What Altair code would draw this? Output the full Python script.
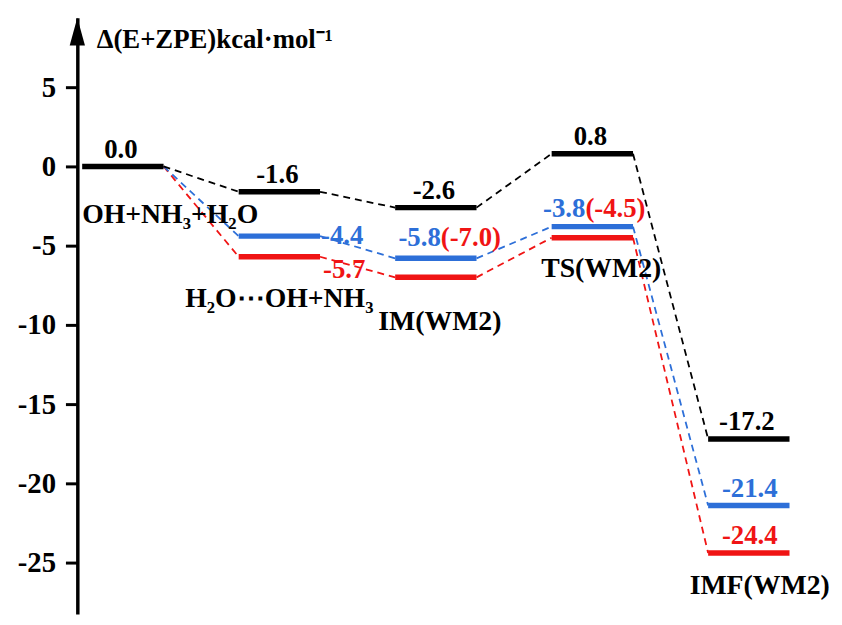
import altair as alt
import pandas as pd

# ---- data ----
stages = [0, 1, 2, 3, 4]
stage_names = ["OH+NH₃+H₂O", "H₂O⋯OH+NH₃", "IM(WM2)", "TS(WM2)", "IMF(WM2)"]
e_black = [0.0, -1.6, -2.6, 0.8, -17.2]
e_blue = [0.0, -4.4, -5.8, -3.8, -21.4]
e_red = [0.0, -5.7, -7.0, -4.5, -24.4]
name_y = [-3.55, -8.85, -10.3, -7.0, -27.0]
y_ticks = [-25, -20, -15, -10, -5, 0, 5]
y_title = "Δ(E+ZPE)kcal·mol⁻¹"

# ---- styling ----
FONT = "Liberation Serif"
BLACK, BLUE, RED = "#000000", "#2d6fd8", "#f01414"
HW = 0.26            # half width of an energy level, in stage units
W, H = 760, 602
X_DOM = [-0.291, 4.519]
Y_DOM = [-28.25, 9.375]
PX_X = (X_DOM[1] - X_DOM[0]) / W
PX_Y = (Y_DOM[1] - Y_DOM[0]) / H

xs = alt.Scale(domain=X_DOM, nice=False, zero=False)
ys = alt.Scale(domain=Y_DOM, nice=False, zero=False)

yaxis = alt.Axis(
    values=y_ticks, labelExpr="'' + datum.value", grid=False,
    title=y_title, titleAngle=0, titleAlign="left", titleBaseline="alphabetic",
    titleX=19, titleY=30, titleFont=FONT, titleFontSize=27, titleFontWeight="bold",
    titleColor="black",
    labelFont=FONT, labelFontSize=29, labelFontWeight="bold", labelColor="black",
    labelPadding=10, tickSize=12, tickWidth=3, tickColor="black",
    domainColor="black", domainWidth=3.5,
)

series = [("red", e_red, RED), ("blue", e_blue, BLUE), ("black", e_black, BLACK)]

# dashed connectors
conn_rows = []
for name, vals, col in series:
    for i in range(len(stages) - 1):
        conn_rows.append({"x": stages[i] + HW, "x2": stages[i + 1] - HW,
                          "y": vals[i], "y2": vals[i + 1], "c": col, "s": name})
conn_df = pd.DataFrame(conn_rows)

# energy levels
lvl_rows = []
for name, vals, col in series:
    for i in stages:
        if name != "black" and i == 0:
            continue
        lvl_rows.append({"x": stages[i] - HW, "x2": stages[i] + HW, "y": vals[i],
                         "c": col, "o": ["red", "blue", "black"].index(name)})
lvl_df = pd.DataFrame(lvl_rows)

X = lambda f: alt.X(f"{f}:Q", scale=xs, axis=None)
Y = lambda f: alt.Y(f"{f}:Q", scale=ys, axis=yaxis)

connectors = alt.Chart(conn_df).mark_rule(strokeDash=[7, 5], strokeWidth=1.8).encode(
    x=X("x"), x2="x2", y=Y("y"), y2="y2", color=alt.Color("c:N", scale=None),
    detail="s:N")

levels = alt.Chart(lvl_df).mark_rule(strokeWidth=5.5, strokeCap="butt").encode(
    x=X("x"), x2="x2", y=Y("y"), color=alt.Color("c:N", scale=None),
    order="o:Q")

def text_layer(rows, align, size=27):
    df = pd.DataFrame(rows, columns=["x", "y", "t", "c"])
    return alt.Chart(df).mark_text(
        align=align, baseline="alphabetic", font=FONT, fontWeight="bold", fontSize=size
    ).encode(x=X("x"), y=Y("y"), text="t:N", color=alt.Color("c:N", scale=None))

center_rows = [(stages[i] - 2 * PX_X, e_black[i] + 9 * PX_Y, f"{e_black[i]:.1f}", BLACK)
               for i in stages]
center_rows += [
    (stages[4] + 1 * PX_X, e_blue[4] + 9 * PX_Y, f"{e_blue[4]:.1f}", BLUE),
    (stages[4] + 1 * PX_X, e_red[4] + 9 * PX_Y, f"{e_red[4]:.1f}", RED),
]
name_dx = [0, 0, 4, 9, 11]
name_rows = [(stages[i] + name_dx[i] * PX_X, name_y[i], stage_names[i], BLACK)
             for i in [1, 2, 3, 4]]
name0_rows = [(stages[0] - HW, name_y[0], stage_names[0], BLACK)]

left_rows = [
    (stages[1] + HW + 1 * PX_X, e_blue[1] - 8 * PX_Y, f"{e_blue[1]:.1f}", BLUE),
    (stages[1] + HW + 3 * PX_X, e_red[1] - 21 * PX_Y, f"{e_red[1]:.1f}", RED),
    (stages[2] + 5 * PX_X, e_blue[2] + 12 * PX_Y, f"({e_red[2]:.1f})", RED),
    (stages[3] - 7 * PX_X, e_blue[3] + 10 * PX_Y, f"({e_red[3]:.1f})", RED),
]
right_rows = [
    (stages[2] + 5 * PX_X, e_blue[2] + 12 * PX_Y, f"{e_blue[2]:.1f}", BLUE),
    (stages[3] - 7 * PX_X, e_blue[3] + 10 * PX_Y, f"{e_blue[3]:.1f}", BLUE),
]

arrow = alt.Chart(pd.DataFrame({"y": [Y_DOM[1] - 14 * PX_Y]})).mark_point(
    shape="M0,-1L0.55,1L-0.55,1Z", size=784, filled=True, color="black", opacity=1
).encode(x=alt.value(0), y=Y("y"))

chart = alt.layer(
    connectors, levels,
    text_layer(center_rows, "center"),
    text_layer(name_rows, "center", 28),
    text_layer(name0_rows, "left", 28),
    text_layer(left_rows, "left"),
    text_layer(right_rows, "right"),
    arrow,
).properties(
    width=W, height=H,
    padding={"left": 70, "top": 7, "right": 4, "bottom": 0},
    autosize=alt.AutoSizeParams(type="none"),
    background="white",
).configure_view(stroke=None)

chart.save("out.html", embed_options={"renderer": "svg", "actions": False})
